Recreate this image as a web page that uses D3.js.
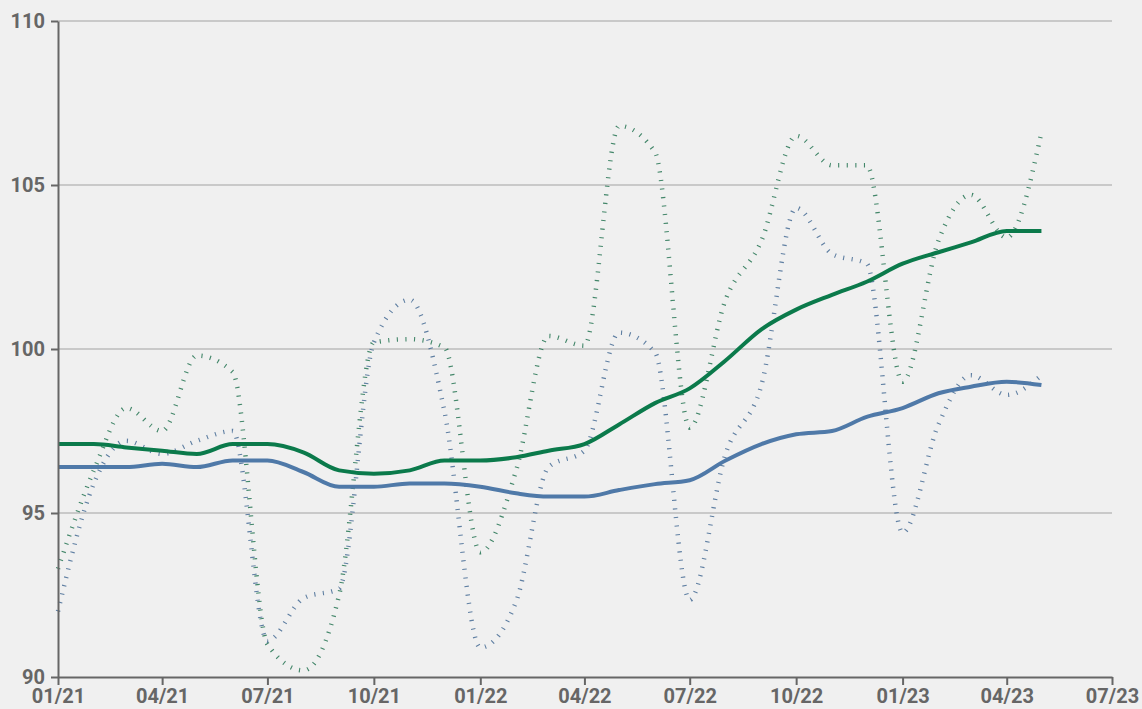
<!DOCTYPE html>
<html>
<head>
<meta charset="utf-8">
<script src="https://cdn.jsdelivr.net/npm/d3@7"></script>
<style>
  html, body { margin: 0; padding: 0; background: #f0f0f0; }
  svg { display: block; }
  .tick text { font-family: Roboto, "Open Sans", sans-serif; font-weight: 700; font-size: 20px; fill: #666; }
</style>
</head>
<body>
<div id="chart"></div>
<script>
// monthly points, Jan 2021 .. May 2023
const months = ['2021-01','2021-02','2021-03','2021-04','2021-05','2021-06','2021-07','2021-08','2021-09','2021-10','2021-11','2021-12',
  '2022-01','2022-02','2022-03','2022-04','2022-05','2022-06','2022-07','2022-08','2022-09','2022-10','2022-11','2022-12',
  '2023-01','2023-02','2023-03','2023-04','2023-05'];

const greenTrend = [97.1, 97.1, 97.0, 96.9, 96.8, 97.1, 97.1, 96.85, 96.3, 96.2, 96.3, 96.6,
  96.6, 96.7, 96.9, 97.1, 97.7, 98.35, 98.8, 99.65, 100.6, 101.2, 101.65, 102.05,
  102.6, 102.95, 103.25, 103.6, 103.6];
const blueTrend = [96.4, 96.4, 96.4, 96.5, 96.4, 96.6, 96.6, 96.25, 95.8, 95.8, 95.9, 95.9,
  95.8, 95.6, 95.5, 95.5, 95.7, 95.88, 96.0, 96.6, 97.1, 97.4, 97.5, 97.93,
  98.2, 98.65, 98.85, 99.0, 98.9];
const greenMonthly = [93.3, 96.3, 98.2, 97.5, 99.8, 99.3, 91.0, 90.2, 92.5, 100.2, 100.3, 100.05,
  93.8, 96.3, 100.4, 100.1, 106.8, 106.0, 97.6, 101.5, 103.3, 106.5, 105.6, 105.6,
  99.0, 103.3, 104.7, 103.4, 106.6];
const blueMonthly = [92.0, 95.9, 97.2, 96.8, 97.2, 97.5, 91.1, 92.4, 92.7, 100.2, 101.5, 98.1,
  90.9, 92.3, 96.4, 96.9, 100.5, 99.9, 92.35, 96.8, 98.9, 104.3, 102.9, 102.6,
  94.4, 97.7, 99.2, 98.6, 99.2];

const yTicks = [90, 95, 100, 105, 110];

const width = 1142, height = 709;
const margin = {top: 21, right: 30, bottom: 32, left: 58};

const parse = d3.timeParse('%Y-%m');
const dates = months.map(parse);

const x = d3.scaleTime()
  .domain([new Date(2021, 0, 1), new Date(2023, 6, 1)])
  .range([margin.left, width - margin.right]);
const y = d3.scaleLinear()
  .domain([90, 110])
  .range([height - margin.bottom, margin.top]);

const svg = d3.select('#chart').append('svg')
  .attr('width', width)
  .attr('height', height);

// grid
svg.append('g')
  .selectAll('line')
  .data(yTicks.slice(1))
  .enter().append('line')
  .attr('x1', margin.left)
  .attr('x2', width - margin.right)
  .attr('y1', d => y(d))
  .attr('y2', d => y(d))
  .style('stroke', '#bcbcbc')
  .style('stroke-width', 1.5);

const line = d3.line()
  .x((d, i) => x(dates[i]))
  .y(d => y(d))
  .curve(d3.curveMonotoneX);

// monthly (dotted) series
[[blueMonthly, '#4f7299'], [greenMonthly, '#2f7a5a']].forEach(([vals, col]) => {
  svg.append('path')
    .datum(vals)
    .attr('d', line)
    .style('fill', 'none')
    .style('stroke', col)
    .style('stroke-width', 4.5)
    .style('stroke-dasharray', '1.1 7.5')
    .style('opacity', 0.9);
});

// trend lines
[[blueTrend, '#4f79a8'], [greenTrend, '#0b7a4b']].forEach(([vals, col]) => {
  svg.append('path')
    .datum(vals)
    .attr('d', line)
    .style('fill', 'none')
    .style('stroke', col)
    .style('stroke-width', 4);
});

// axes
const xAxis = svg.append('g')
  .attr('transform', 'translate(0,' + (height - margin.bottom) + ')')
  .call(d3.axisBottom(x)
    .ticks(d3.timeMonth.every(3))
    .tickFormat(d3.timeFormat('%m/%y'))
    .tickSize(8)
    .tickSizeOuter(0)
    .tickPadding(4));

const yAxis = svg.append('g')
  .attr('transform', 'translate(' + margin.left + ',0)')
  .call(d3.axisLeft(y)
    .tickValues(yTicks)
    .tickSize(7)
    .tickSizeOuter(0)
    .tickPadding(6));

[xAxis, yAxis].forEach(ax => {
  ax.select('.domain').style('stroke', '#666').style('stroke-width', 2);
  ax.selectAll('.tick line').style('stroke', '#666').style('stroke-width', 2);
});
</script>
</body>
</html>
